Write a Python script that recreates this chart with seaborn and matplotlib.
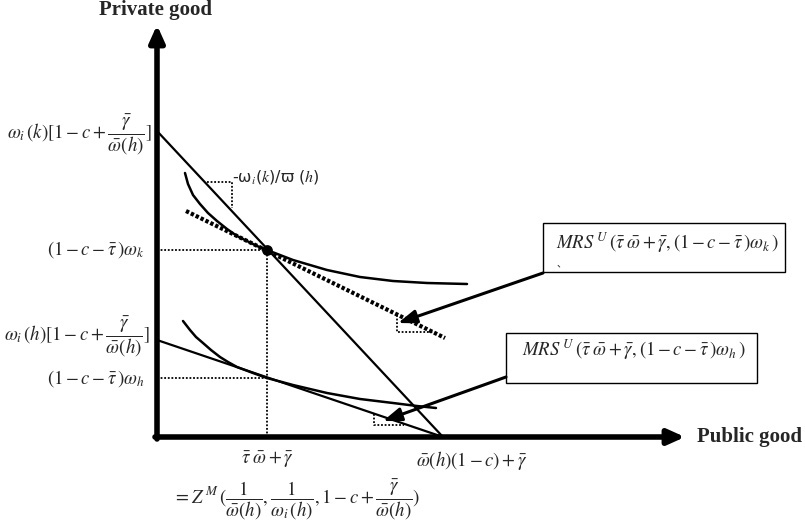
import matplotlib
matplotlib.use("Agg")
import matplotlib.pyplot as plt
import seaborn as sns
import pandas as pd
from matplotlib.patches import Rectangle

sns.set_style("white")
plt.rcParams['font.family'] = ['Liberation Serif', 'DejaVu Serif', 'Noto Sans CJK JP']
plt.rcParams['mathtext.fontset'] = 'stix'

# ---- data (public good on x, private good on y; origin at axes corner) ----
axis_x_end = 528
axis_y_end = 412

budget_k_x = [0, 286]
budget_k_y = [306, 0]
budget_h_x = [0, 286]
budget_h_y = [97, 0]

tangent_k = (110, 187)
tangent_h = (110, 59)

mrs_line_x = [29, 288]
mrs_line_y = [226, 99]

indiff_k_x = [28, 31, 36, 43, 51, 60, 70, 80, 90, 100, 110, 136, 170, 203, 236, 270, 310]
indiff_k_y = [264, 253, 242, 233, 224, 216, 208, 201, 196, 191, 187, 177, 167, 160, 156, 154, 153]

indiff_h_x = [26, 33, 39, 46, 54, 63, 71, 80, 88, 96, 110, 136, 170, 203, 236, 260, 279]
indiff_h_y = [116, 107, 100, 94, 87, 80, 75, 70, 67, 64, 59, 52, 44, 38, 34, 31, 29]

tri_k_x = [50, 75, 75]
tri_k_y = [255, 255, 229]
tri_mrs_x = [240, 240, 276]
tri_mrs_y = [122, 105, 105]
tri_h_x = [217, 217, 247]
tri_h_y = [23, 12, 12]

box_k = (386, 165, 242, 49)
box_h = (349, 54, 251, 50)
arrow_k = ((386, 164), (241, 114))
arrow_h = ((349, 60), (226, 16))

fig = plt.figure(figsize=(8.05, 5.28), dpi=100)
ax = fig.add_axes([0, 0, 1, 1])
ax.set_xlim(-157, 648)
ax.set_ylim(-91, 437)
ax.axis('off')

def line(x, y, **kw):
    df = pd.DataFrame({'x': x, 'y': y})
    sns.lineplot(data=df, x='x', y='y', ax=ax, sort=False, estimator=None,
                 color='black', **kw)

# budget lines
line(budget_k_x, budget_k_y, lw=1.6)
line(budget_h_x, budget_h_y, lw=1.6)
# indifference curves
line(indiff_k_x, indiff_k_y, lw=1.8, solid_joinstyle='round', solid_capstyle='round')
line(indiff_h_x, indiff_h_y, lw=1.8, solid_joinstyle='round', solid_capstyle='round')
# MRS tangent (thick dotted)
line(mrs_line_x, mrs_line_y, lw=3, linestyle=(0, (0.8, 0.5)))
# guide lines
dot = (0, (1, 1))
line([0, tangent_k[0]], [tangent_k[1], tangent_k[1]], lw=1.3, linestyle=dot)
line([0, tangent_h[0]], [tangent_h[1], tangent_h[1]], lw=1.3, linestyle=dot)
line([tangent_k[0], tangent_k[0]], [0, tangent_k[1]], lw=1.3, linestyle=dot)
# slope triangles
line(tri_k_x, tri_k_y, lw=1.3, linestyle=dot)
line(tri_mrs_x, tri_mrs_y, lw=1.3, linestyle=dot)
line(tri_h_x, tri_h_y, lw=1.3, linestyle=dot)

ax.scatter([tangent_k[0]], [tangent_k[1]], s=45, color='black', zorder=5)

# axes arrows
ax.annotate('', xy=(0, axis_y_end), xytext=(0, -2),
            arrowprops=dict(arrowstyle='-|>,head_length=1.0,head_width=0.45',
                            lw=4, color='black', shrinkA=0, shrinkB=0))
ax.annotate('', xy=(axis_x_end, 0), xytext=(-2, 0),
            arrowprops=dict(arrowstyle='-|>,head_length=1.0,head_width=0.45',
                            lw=4, color='black', shrinkA=0, shrinkB=0))

# boxes
for (bx, by, bw, bh) in (box_k, box_h):
    ax.add_patch(Rectangle((bx, by), bw, bh, fill=False, lw=1.0, ec='black'))

for start, end in (arrow_k, arrow_h):
    ax.annotate('', xy=end, xytext=start,
                arrowprops=dict(arrowstyle='-|>,head_length=1.1,head_width=0.4',
                                lw=2.2, color='black', shrinkA=0, shrinkB=0))

# texts
ax.text(-2, 436.5, 'Private good', ha='center', va='top', fontsize=15, fontweight='bold')
ax.text(540, 0, 'Public good', ha='left', va='center', fontsize=15, fontweight='bold')

fs = 13.5
ax.text(-5, 302, r'$\omega_i\,(k)[1-c+\dfrac{\bar{\gamma}}{\bar{\omega}(h)}]$', ha='right', va='center', fontsize=fs)
ax.text(-12, 187, r'$(1-c-\bar{\tau}\,)\omega_k$', ha='right', va='center', fontsize=fs)
ax.text(-7, 100, r'$\omega_i\,(h)[1-c+\dfrac{\bar{\gamma}}{\bar{\omega}(h)}]$', ha='right', va='center', fontsize=fs)
ax.text(-12, 58, r'$(1-c-\bar{\tau}\,)\omega_h$', ha='right', va='center', fontsize=fs)

ax.text(110, -23, r'$\bar{\tau}\;\bar{\omega}+\bar{\gamma}$', ha='center', va='center', fontsize=fs)
ax.text(315, -23, r'$\bar{\omega}(h)(1-c)+\bar{\gamma}$', ha='center', va='center', fontsize=fs)
ax.text(16, -63, r'$=Z^{\,M}\,(\dfrac{1}{\bar{\omega}(h)},\dfrac{1}{\omega_i\,(h)},1-c+\dfrac{\bar{\gamma}}{\bar{\omega}(h)})$',
        ha='left', va='center', fontsize=fs)

ax.text(75, 260, r'-ω$_i$($k$)/ϖ ($h$)', ha='left', va='center', fontsize=11.5,
        family=['DejaVu Sans'])

ax.text(399, 194, r'$MRS^{\,U}\,(\bar{\tau}\;\bar{\omega}+\bar{\gamma},(1-c-\bar{\tau}\,)\omega_k\,)$',
        ha='left', va='center', fontsize=fs)
ax.text(399, 174, '、', ha='left', va='center', fontsize=7, family=['Noto Sans CJK JP'])
ax.text(365, 87, r'$MRS^{\,U}\,(\bar{\tau}\;\bar{\omega}+\bar{\gamma},(1-c-\bar{\tau}\,)\omega_h\,)$',
        ha='left', va='center', fontsize=fs)

fig.savefig('out.png', dpi=100)
